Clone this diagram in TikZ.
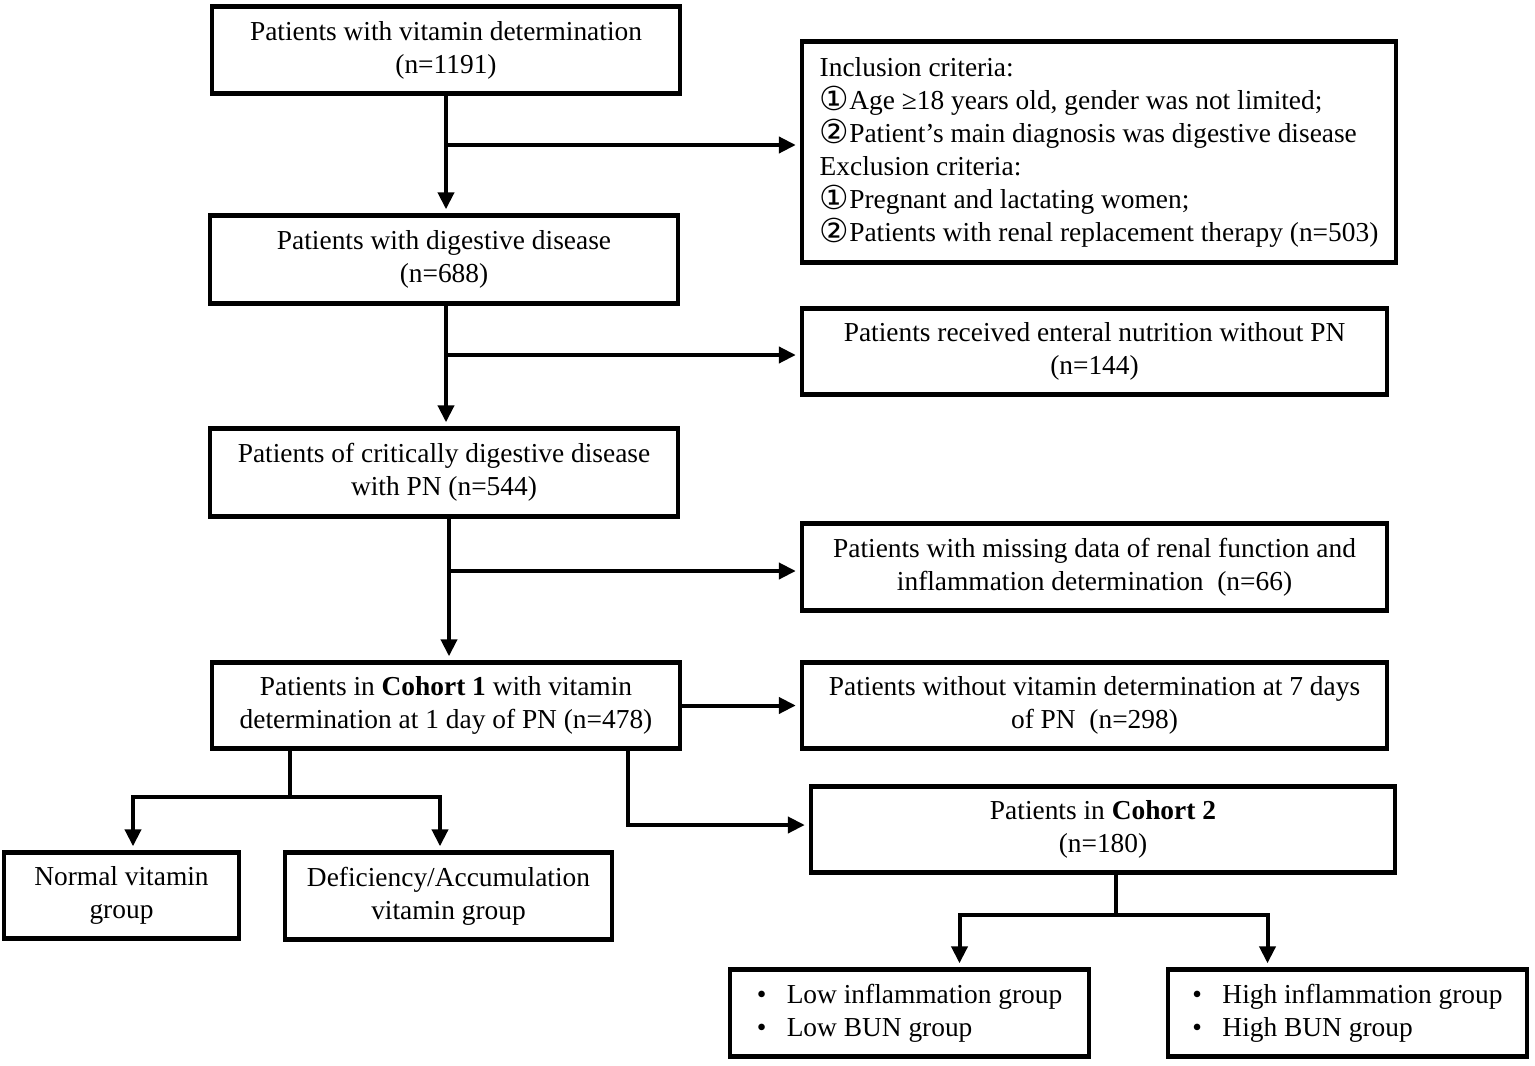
\documentclass[tikz,border=0pt]{standalone}
\usepackage{fontspec}
\setmainfont{Liberation Serif}
\newfontfamily\symfont{DejaVu Sans}
\usetikzlibrary{arrows.meta}
\newcommand{\cnum}[1]{\smash{\raisebox{-0.5pt}{\symfont\fontsize{16.5}{16.5}\selectfont #1}}}
\newcommand{\fs}{\fontsize{13.7}{16.5}\selectfont}
\newcommand{\bul}{\makebox[15pt][l]{\textbullet}}

\tikzset{
  box/.style={draw, line width=2.2pt, align=center, inner sep=0pt, font=\fs},
  ln/.style={line width=2pt},
  arr/.style={line width=2pt, -{Triangle[length=8.5pt,width=8pt]}, shorten >=2pt}
}

\begin{document}
\begin{tikzpicture}[x=0.5pt,y=0.5pt,yscale=-1,xscale=1]
\useasboundingbox (0,0) rectangle (1535,1065);

% Boxes
\node [box, minimum width=234pt, minimum height=43.5pt] (all) at (446,50) {Patients with vitamin determination\\(n=1191)};
\node [box, minimum width=297pt, minimum height=110.5pt, align=left] (crit) at (1099,152) {Inclusion criteria:\\\cnum{①}Age ≥18 years old, gender was not limited;\\\cnum{②}Patient's main diagnosis was digestive disease\\Exclusion criteria:\\\cnum{①}Pregnant and lactating women;\\\cnum{②}Patients with renal replacement therapy (n=503)};
\node [box, minimum width=234pt, minimum height=44pt] (dig) at (444,259.5) {Patients with digestive disease\\(n=688)};
\node [box, minimum width=292.5pt, minimum height=43pt] (enteral) at (1094.5,351.5) {Patients received enteral nutrition without PN\\(n=144)};
\node [box, minimum width=234pt, minimum height=44pt] (pn) at (444,472.5) {Patients of critically digestive disease\\with PN (n=544)};
\node [box, minimum width=292.5pt, minimum height=43.5pt] (missing) at (1094.5,567) {Patients with missing data of renal function and\\inflammation determination\ \ (n=66)};
\node [box, minimum width=234pt, minimum height=43pt] (coh1) at (446,705.5) {Patients in \textbf{Cohort 1} with vitamin\\determination at 1 day of PN (n=478)};
\node [box, minimum width=292.5pt, minimum height=43pt] (noday7) at (1094.5,705.5) {Patients without vitamin determination at 7 days\\of PN\ \ (n=298)};
\node [box, minimum width=292pt, minimum height=43pt] (coh2) at (1103,829.5) {Patients in \textbf{Cohort 2}\\(n=180)};
\node [box, minimum width=117.5pt, minimum height=43pt] (normal) at (121.5,895.5) {Normal vitamin\\group};
\node [box, minimum width=163.5pt, minimum height=43.5pt] (defic) at (448.5,896) {Deficiency/Accumulation\\vitamin group};
\node [box, minimum width=179.5pt, minimum height=43.5pt, align=left] (low) at (909.5,1013) {\bul Low inflammation group\\\bul Low BUN group};
\node [box, minimum width=179.5pt, minimum height=43.5pt, align=left] (high) at (1347.5,1013) {\bul High inflammation group\\\bul High BUN group};

% Split points
\coordinate (s1) at (446,145);
\coordinate (s2) at (446,355);
\coordinate (s3) at (449,571);
\coordinate (s4) at (290,797);
\coordinate (s5) at (628,825);
\coordinate (s6) at (1116,915);

% Straight Lines
\draw [arr] (all.south) -- (all.south |- dig.north);
\draw [arr] (s1) -- (s1 -| crit.west);
\draw [arr] (s2 |- dig.south) -- (s2 |- pn.north);
\draw [arr] (s2) -- (s2 -| enteral.west);
\draw [arr] (s3 |- pn.south) -- (s3 |- coh1.north);
\draw [arr] (s3) -- (s3 -| missing.west);
\draw [arr] (coh1) -- (noday7);
\draw [arr] (s5 |- coh1.south) |- (s5 -| coh2.west);
\draw [ln] (s4 |- coh1.south) -- (s4);
\draw [arr] (s4) -| ([xshift=5.75pt]normal.north);
\draw [arr] (s4) -| ([xshift=-4.25pt]defic.north);
\draw [ln] (s6 |- coh2.south) -- (s6);
\draw [arr] (s6) -| ([xshift=25pt]low.north);
\draw [arr] (s6) -| ([xshift=-40pt]high.north);

\end{tikzpicture}
\end{document}
